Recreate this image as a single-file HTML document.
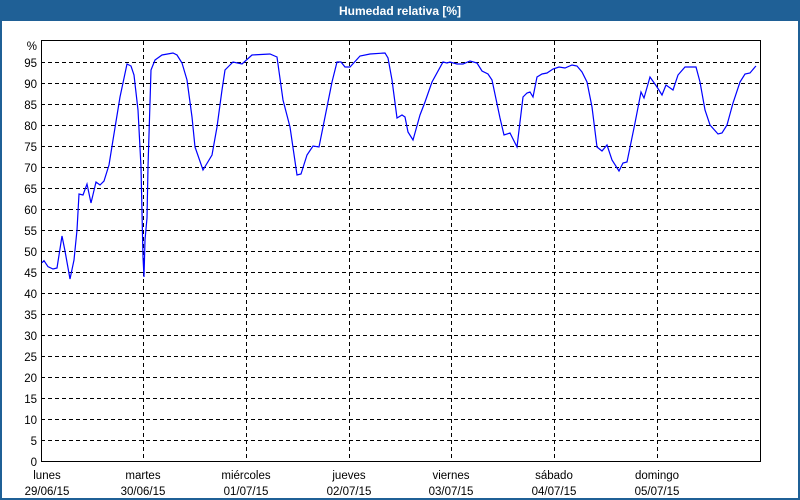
<!DOCTYPE html>
<html><head><meta charset="utf-8"><style>
html,body{margin:0;padding:0;background:#1f6096;}
svg{display:block}
</style></head><body>
<svg width="800" height="500" xmlns="http://www.w3.org/2000/svg" font-family="Liberation Sans, sans-serif" font-size="11.5">
<rect x="0" y="0" width="800" height="500" fill="#1f6096"/>
<rect x="2" y="21" width="796" height="477" fill="#ffffff"/>
<text x="400" y="15" fill="#fff" font-weight="bold" font-size="12" text-anchor="middle">Humedad relativa [%]</text>
<g stroke="#000" stroke-dasharray="4,3" stroke-width="1">
<line x1="41" x2="760" y1="440.5" y2="440.5"/><line x1="41" x2="760" y1="419.5" y2="419.5"/><line x1="41" x2="760" y1="398.5" y2="398.5"/><line x1="41" x2="760" y1="377.5" y2="377.5"/><line x1="41" x2="760" y1="356.5" y2="356.5"/><line x1="41" x2="760" y1="335.5" y2="335.5"/><line x1="41" x2="760" y1="314.5" y2="314.5"/><line x1="41" x2="760" y1="293.5" y2="293.5"/><line x1="41" x2="760" y1="272.5" y2="272.5"/><line x1="41" x2="760" y1="251.5" y2="251.5"/><line x1="41" x2="760" y1="230.5" y2="230.5"/><line x1="41" x2="760" y1="209.5" y2="209.5"/><line x1="41" x2="760" y1="188.5" y2="188.5"/><line x1="41" x2="760" y1="167.5" y2="167.5"/><line x1="41" x2="760" y1="146.5" y2="146.5"/><line x1="41" x2="760" y1="125.5" y2="125.5"/><line x1="41" x2="760" y1="104.5" y2="104.5"/><line x1="41" x2="760" y1="83.5" y2="83.5"/><line x1="41" x2="760" y1="62.5" y2="62.5"/>
<line y1="41" y2="461" x1="143.5" x2="143.5"/><line y1="41" y2="461" x1="246.5" x2="246.5"/><line y1="41" y2="461" x1="349.5" x2="349.5"/><line y1="41" y2="461" x1="451.5" x2="451.5"/><line y1="41" y2="461" x1="554.5" x2="554.5"/><line y1="41" y2="461" x1="657.5" x2="657.5"/>
</g>
<rect x="41.5" y="40.5" width="719" height="421" fill="none" stroke="#000"/>
<g text-anchor="end" fill="#000">
<text x="37" y="466">0</text><text x="37" y="445">5</text><text x="37" y="424">10</text><text x="37" y="403">15</text><text x="37" y="382">20</text><text x="37" y="361">25</text><text x="37" y="340">30</text><text x="37" y="319">35</text><text x="37" y="298">40</text><text x="37" y="277">45</text><text x="37" y="256">50</text><text x="37" y="235">55</text><text x="37" y="214">60</text><text x="37" y="193">65</text><text x="37" y="172">70</text><text x="37" y="151">75</text><text x="37" y="130">80</text><text x="37" y="109">85</text><text x="37" y="88">90</text><text x="37" y="67">95</text><text x="37" y="50">%</text>
</g>
<g text-anchor="middle" fill="#000">
<text x="47" y="479">lunes</text><text x="47" y="495">29/06/15</text>
<text x="143" y="479">martes</text><text x="143" y="495">30/06/15</text>
<text x="246" y="479">miércoles</text><text x="246" y="495">01/07/15</text>
<text x="349" y="479">jueves</text><text x="349" y="495">02/07/15</text>
<text x="451" y="479">viernes</text><text x="451" y="495">03/07/15</text>
<text x="554" y="479">sábado</text><text x="554" y="495">04/07/15</text>
<text x="657" y="479">domingo</text><text x="657" y="495">05/07/15</text>
</g>
<polyline fill="none" stroke="#0000ff" stroke-width="1.2" points="42,262.7 44,260.7 48,266.7 53,269 57,268 62,236 65,251 70,279 74,260 77,230 79,194 83,195 87,184 91,203 96,182 100,185 104,181 109,165 113,140 120,97 127,64 131,66 134,75 138,110 141,167 143,257 144,277 145,240 147,218 148,167 151,70 155,60 162,55 173,53 177,55 182,63 187,80 192,117 195,147 203,170 212,155 217,127 222,90 225,70 233,62 242,64 252,55 270,54 277,57 283,100 290,127 297,175 301,174 307,155 313,146 319,147 323,127 332,82 337,62 341,62 345,67 350,67 360,56 370,54 385,53 388,58 392,80 397,118 402,115 405,117 408,132 413,140 420,115 425,102 432,82 443,62 447,63 450,62 457,64 463,64 470,61 477,63 482,71 488,74 492,80 500,118 504,135 510,133 517,147 523,97 527,93 530,92 533,97 537,77 542,74 547,73 553,69 559,67 565,68 572,65 577,66 582,72 587,82 592,107 597,147 602,151 607,145 612,160 619,171 623,163 627,162 635,123 641,92 644,98 650,77 657,87 662,95 666,85 673,90 678,75 685,67 696,67 700,82 705,110 710,125 718,134 722,133 727,125 733,103 740,82 745,74 750,73 755,67 756,66"/>
</svg>
</body></html>
